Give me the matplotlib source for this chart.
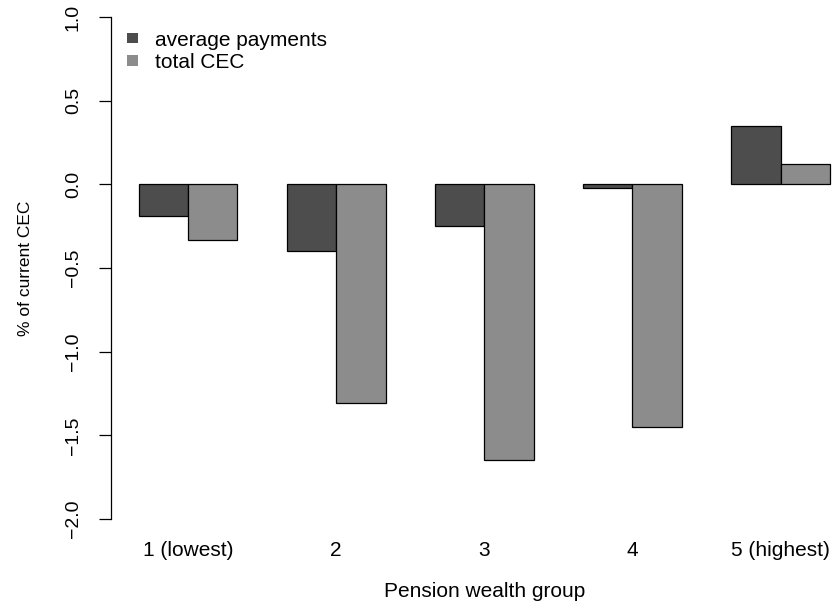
import numpy as np
import matplotlib
matplotlib.use("Agg")
import matplotlib.pyplot as plt
from matplotlib.patches import Patch

# change in CEC by pension wealth group (percent of current CEC)
groups = ["1 (lowest)", "2", "3", "4", "5 (highest)"]
avg_payments = [-0.19, -0.40, -0.25, -0.02, 0.35]
total_cec = [-0.33, -1.31, -1.65, -1.45, 0.12]
series_names = ["average payments", "total CEC"]
colors = ["#4D4D4D", "#8C8C8C"]
yticks = [-2.0, -1.5, -1.0, -0.5, 0.0, 0.5, 1.0]

plt.rcParams["font.family"] = ["Liberation Sans", "DejaVu Sans"]

fig = plt.figure(figsize=(8.35, 6.01), dpi=100)
# plot region laid out like base R barplot (xlim extended 4%)
ax = fig.add_axes([111 / 835, 62 / 601, 746.6 / 835, 542.1 / 601])

n = len(groups)
# beside=TRUE layout: bar width 1, gap of 1 between groups
left = np.arange(n) * 3 + 1
ax.bar(left + 0.5, avg_payments, width=1, color=colors[0],
       edgecolor="black", linewidth=0.9)
ax.bar(left + 1.5, total_cec, width=1, color=colors[1],
       edgecolor="black", linewidth=0.9)

ax.set_xlim(0.44, 15.56)
ax.set_ylim(-2.12, 1.12)

for s in ["top", "right", "bottom"]:
    ax.spines[s].set_visible(False)
ax.spines["left"].set_bounds(-2.0, 1.0)
ax.spines["left"].set_linewidth(0.9)

ax.set_yticks(yticks)
ax.set_yticklabels([f"{v:.1f}".replace("-", "\u2212") for v in yticks],
                   rotation=90, va="center", fontsize=14)
ax.tick_params(axis="y", direction="out", length=9, width=0.9, pad=12)

ax.set_xticks(left + 1)
ax.set_xticklabels(groups, fontsize=15)
ax.tick_params(axis="x", length=0, pad=1.5)

ax.set_xlabel("Pension wealth group", fontsize=15, labelpad=16)
ax.set_ylabel("% of current CEC", fontsize=12.5, labelpad=23)

handles = [Patch(facecolor=c, edgecolor="none") for c in colors]
ax.legend(handles, series_names, loc="upper left",
          bbox_to_anchor=(0.022, 0.938), frameon=False, fontsize=15,
          handlelength=0.5, handleheight=0.38, handletextpad=0.8,
          labelspacing=0.17, borderpad=0, borderaxespad=0)

fig.savefig("out.png", dpi=100)
